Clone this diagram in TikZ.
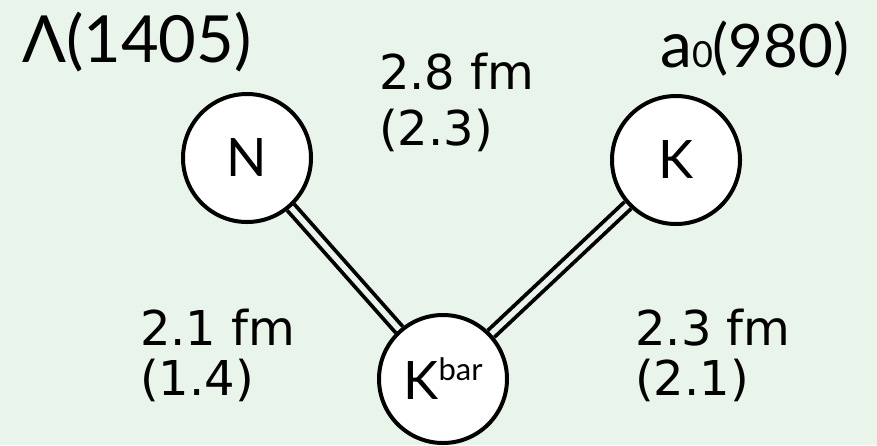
\documentclass[tikz,border=0pt]{standalone}
\usepackage{fontspec}
\setmainfont{Lato}
\newfontfamily\comicf{DejaVu Sans}
\usetikzlibrary{backgrounds}
\definecolor{bgc}{RGB}{233,244,234}
\begin{document}
\begin{tikzpicture}[x=1pt,y=-1pt,
  ball/.style={circle,draw=black,line width=4pt,fill=white,minimum size=128pt,inner sep=0pt,font=\fontsize{53}{53}\selectfont},
  bond/.style={draw=black,line width=3.8pt,double=bgc,double distance=5.5pt},
  fmlab/.style={anchor=base west,inner sep=0pt,font=\comicf\fontsize{48}{48}\selectfont},
  title/.style={anchor=base west,inner sep=0pt}]
\begin{scope}[on background layer]
  \fill[bgc] (0,0) rectangle (877,445);
\end{scope}
\useasboundingbox (0,0) rectangle (877,445);

\node[ball] (N) at (247,158) {N};
\node[ball] (K) at (676,160) {K};
\node[ball] (Kb) at (443,379) {K\raisebox{19pt}{\fontsize{31}{31}\selectfont bar}};

\begin{scope}[on background layer]
  \draw[bond] (N) -- (Kb);
  \draw[bond] (K) -- (Kb);
\end{scope}

\node[title] (lam) at (22,62) {\fontsize{65}{65}\selectfont Λ(1405)};
\node[title] (a0) at (660,67) {{\fontsize{64}{64}\selectfont a}{\fontsize{36}{36}\selectfont 0}{\fontsize{60}{60}\selectfont (980)}};

\node[fmlab] (t1a) at (379,89) {2.8 fm};
\node[fmlab] (t1b) at (379,145) {(2.3)};
\node[fmlab] (t2a) at (140,345) {2.1 fm};
\node[fmlab] (t2b) at (140,395) {(1.4)};
\node[fmlab] (t3a) at (635,345) {2.3 fm};
\node[fmlab] (t3b) at (635,395) {(2.1)};
\end{tikzpicture}
\end{document}
